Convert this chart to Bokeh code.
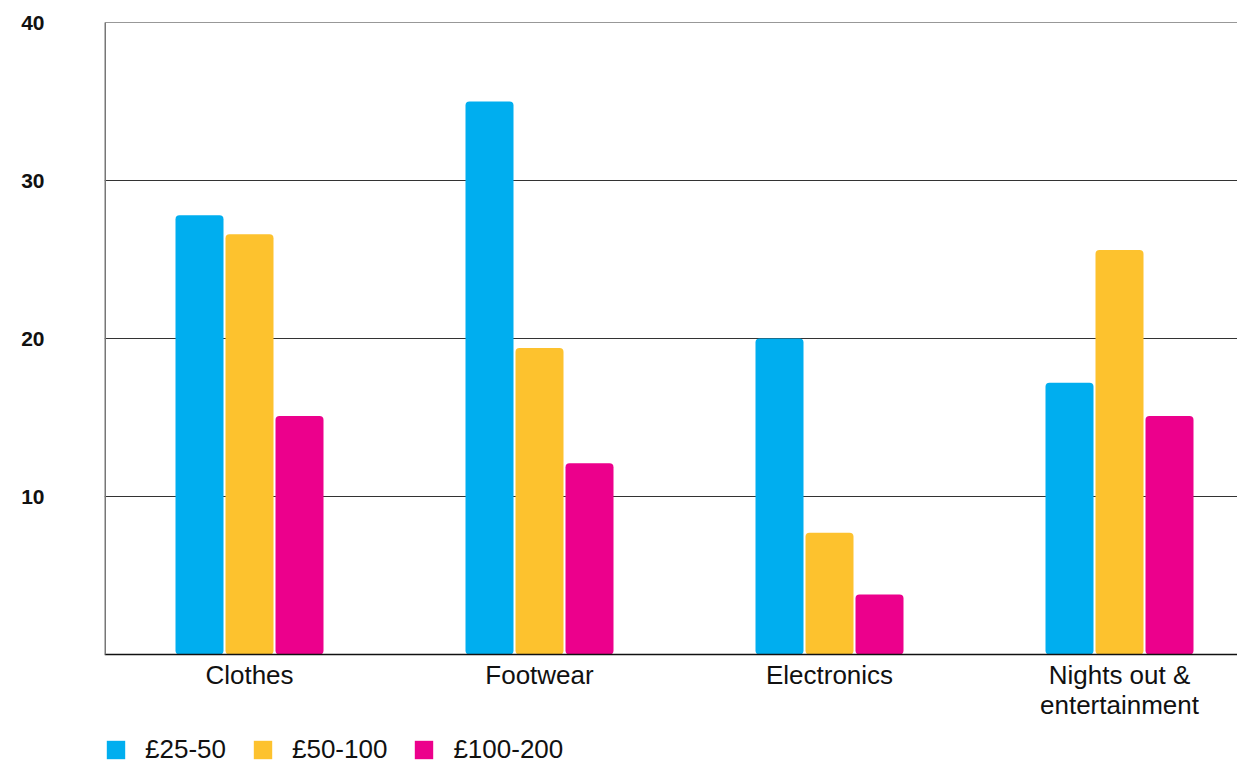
from bokeh.plotting import figure
from bokeh.models import Range1d, FixedTicker, Legend, LegendItem, ColumnDataSource
from bokeh.core.properties import value
from bokeh.embed import file_html
from bokeh.resources import INLINE

categories = ["Clothes", "Footwear", "Electronics", "Nights out &\nentertainment"]
series_names = ["£25-50", "£50-100", "£100-200"]
v_25_50 = [27.8, 35.0, 20.0, 17.2]
v_50_100 = [26.6, 19.4, 7.7, 25.6]
v_100_200 = [15.1, 12.1, 3.8, 15.1]
y_ticks = [10, 20, 30, 40]
colors = ["#00AEEF", "#FDC22E", "#EC008C"]

W, H = 1237, 763
LEFT, TOP, BASE = 104, 22, 654
UNIT = 290.0                      # px per category
PX = (BASE - TOP) / 40.0          # px per value unit
FRAME_W = W - LEFT
FRAME_H = H - TOP
y0 = -(H - BASE) / PX
p = figure(width=W, height=H, output_backend="svg", toolbar_location=None,
           x_range=Range1d(0, FRAME_W / UNIT), y_range=Range1d(y0, y0 + FRAME_H / PX),
           x_axis_location=None,
           min_border_left=LEFT, min_border_right=0, min_border_top=TOP, min_border_bottom=0)
p.outline_line_color = None
p.background_fill_color = "white"
p.border_fill_color = "white"

centers = [i + 0.5 for i in range(len(categories))]
offsets = [-50 / UNIT, 0.0, 50 / UNIT]
bw = 48 / UNIT

# gridlines (restricted to value range)
p.ygrid.grid_line_color = None
p.xgrid.grid_line_color = None
p.segment(x0=[0] * len(y_ticks), y0=y_ticks, x1=[FRAME_W / UNIT] * len(y_ticks), y1=y_ticks,
          line_color="#333333", line_width=1)

items = []
for vals, off, col, name in zip([v_25_50, v_50_100, v_100_200], offsets, colors, series_names):
    src = ColumnDataSource(dict(x=[c + off for c in centers], top=vals))
    r = p.vbar(x="x", top="top", width=bw, bottom=0, source=src, fill_color=col,
               line_color=None, border_radius=4)
    items.append(LegendItem(label=name, renderers=[r]))

# baseline and left axis line
p.segment(x0=[0], y0=[0], x1=[FRAME_W / UNIT], y1=[0], line_color="#111111", line_width=1.5)
p.segment(x0=[0], y0=[0], x1=[0], y1=[max(y_ticks)], line_color="#777777", line_width=3)

# category labels
p.text(x=centers, y=[-5 / PX] * len(centers), text=categories,
       text_font=value("Liberation Sans"), text_font_size=value("26px"),
       text_color="#111111", text_align="center", text_baseline="top", text_line_height=1.0)

p.yaxis.ticker = FixedTicker(ticks=y_ticks)
p.yaxis.major_tick_line_color = None
p.yaxis.minor_tick_line_color = None
p.yaxis.axis_line_color = None
p.yaxis.major_label_text_font = "Liberation Sans"
p.yaxis.major_label_text_font_style = "bold"
p.yaxis.major_label_text_font_size = "21px"
p.yaxis.major_label_text_color = "#111111"
p.yaxis.major_label_standoff = 54

legend = Legend(items=items, orientation="horizontal", location=(0, -2),
                label_text_font="Liberation Sans", label_text_font_size="26px",
                label_text_color="#111111", glyph_width=23, glyph_height=23,
                label_standoff=18, spacing=25, padding=0, margin=0,
                border_line_color=None, background_fill_alpha=0)
p.add_layout(legend, "center")

open("out.html", "w").write(file_html(p, INLINE))
